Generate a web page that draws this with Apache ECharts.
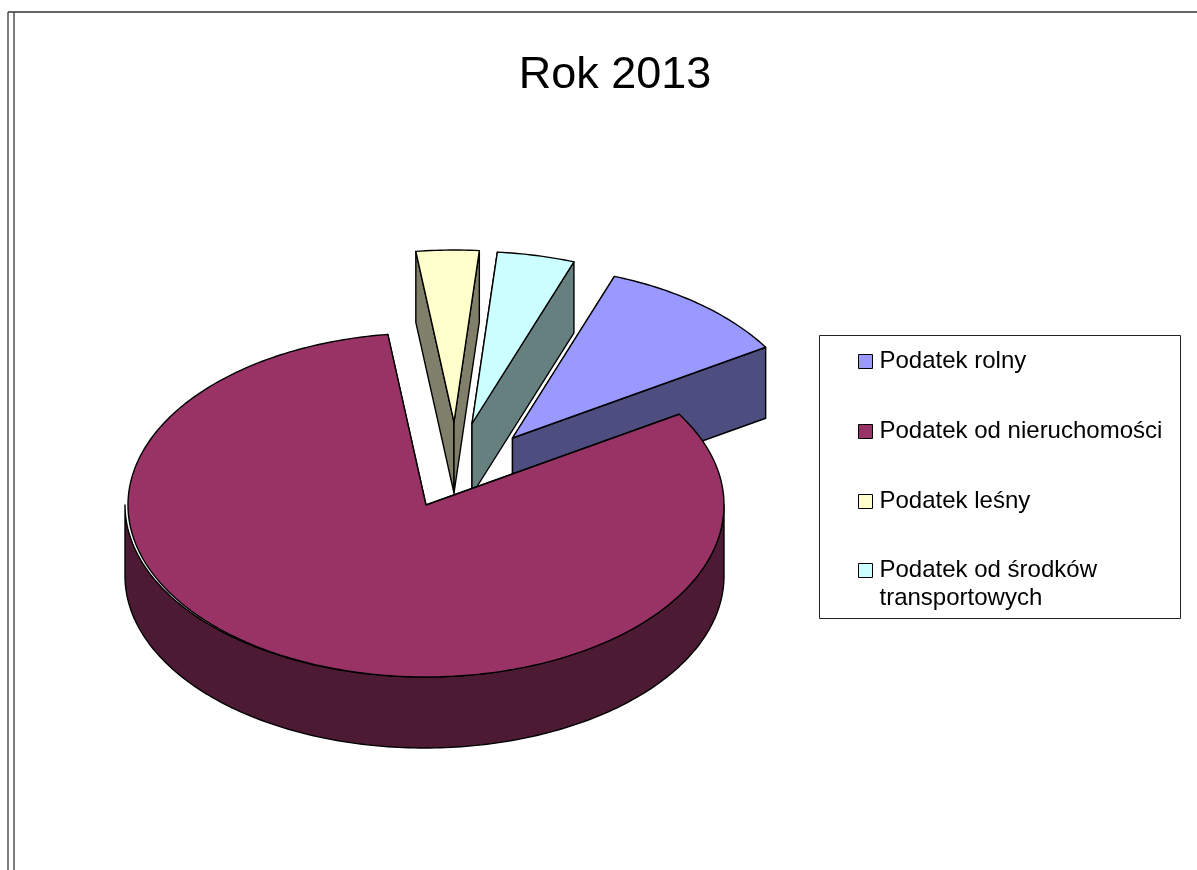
<!DOCTYPE html>
<html lang="pl">
<head>
<meta charset="utf-8">
<title>Rok 2013</title>
<style>
  html, body { margin: 0; padding: 0; background: #fff; }
  #chart { width: 1197px; height: 870px; }
</style>
<script src="https://cdn.jsdelivr.net/npm/echarts@6/dist/echarts.min.js"></script>
</head>
<body>
<div id="chart"></div>
<script>
// Tax shares for the year, in per cent
const categories = ['Podatek rolny', 'Podatek od nieruchomości', 'Podatek leśny', 'Podatek od środków\ntransportowych'];
const shares = [10.6, 81.8, 3.4, 4.2];
const topColors = ['#9999ff', '#993366', '#ffffcc', '#ccffff'];
const wallColors = ['#4d4d80', '#4d1a33', '#80806a', '#668080'];

// Paint order: the large slice goes last so it covers the walls of the pulled-out ones
const paintOrder = [0, 3, 2, 1];
const firstSliceAngle = 20;

// Pie projection: flattened ellipse, extruded downwards
const pie = { cx: 425.5, cy: 505, rx: 298, ry: 172, depth: 71, wallOverhang: 1.5 };
const sliceShift = [[87, -67], [0.5, 0], [28.5, -83], [46.5, -81.5]];

const total = shares.reduce((a, b) => a + b, 0);
const sliceStart = [];
shares.reduce((angle, v, i) => {
  sliceStart[i] = angle;
  return angle + (v / total) * 360;
}, firstSliceAngle);

function rim(angle, cx, cy, rx, ry) {
  const t = angle * Math.PI / 180;
  return [cx + rx * Math.sin(t), cy - ry * Math.cos(t)];
}

function arcPoints(from, to, cx, cy, rx, ry) {
  const pts = [];
  const steps = Math.max(2, Math.ceil(Math.abs(to - from)));
  for (let i = 0; i <= steps; i++) {
    pts.push(rim(from + (to - from) * i / steps, cx, cy, rx, ry));
  }
  return pts;
}

const edge = { stroke: '#000', lineWidth: 1.4, lineJoin: 'round' };

function renderSlice(idx) {
  return function (params, api) {
    const from = sliceStart[idx];
    const to = from + (api.value(0) / total) * 360;
    const [dx, dy] = sliceShift[idx];
    const cx = pie.cx + dx, cy = pie.cy + dy;
    const d = pie.depth;
    const apex = [cx, cy];
    const wallStyle = Object.assign({ fill: wallColors[idx] }, edge);
    const children = [];

    // Outer wall: only the part of the rim that faces the viewer
    const a0 = Math.max(from, 90), a1 = Math.min(to, 270);
    if (a1 > a0) {
      const wallCx = cx - pie.wallOverhang, wallRx = pie.rx + pie.wallOverhang;
      const upper = arcPoints(a0, a1, wallCx, cy, wallRx, pie.ry);
      const lower = upper.map(p => [p[0], p[1] + d]).reverse();
      children.push({ type: 'polygon', shape: { points: upper.concat(lower) }, style: wallStyle });
    }

    // Cut faces on both radial edges
    [from, to].forEach(angle => {
      const p = rim(angle, cx, cy, pie.rx, pie.ry);
      children.push({
        type: 'polygon',
        shape: { points: [apex, p, [p[0], p[1] + d], [apex[0], apex[1] + d]] },
        style: wallStyle
      });
    });

    // Top face
    children.push({
      type: 'polygon',
      shape: { points: [apex].concat(arcPoints(from, to, cx, cy, pie.rx, pie.ry)) },
      style: Object.assign({ fill: topColors[idx] }, edge)
    });
    return { type: 'group', children };
  };
}

const legendText = {
  fontFamily: 'Liberation Sans',
  fontSize: 24,
  lineHeight: 28,
  color: '#000',
  padding: [3, 0, 0, 2]
};
const legendCommon = {
  orient: 'vertical',
  left: 858,
  padding: 0,
  icon: 'rect',
  itemWidth: 14,
  itemHeight: 14,
  selectedMode: false,
  itemStyle: { borderColor: '#000', borderWidth: 1 },
  textStyle: legendText
};

const chart = echarts.init(document.getElementById('chart'), null, { renderer: 'canvas' });
chart.setOption({
  backgroundColor: '#fff',
  animation: false,
  title: {
    text: 'Rok 2013',
    left: 615,
    top: 76,
    textAlign: 'center',
    textVerticalAlign: 'middle',
    padding: 0,
    textStyle: { fontFamily: 'Liberation Sans', fontSize: 45, fontWeight: 'normal', color: '#000' }
  },
  legend: [
    Object.assign({}, legendCommon, { top: 346, itemGap: 39, data: categories.slice(0, 3) }),
    // The blank first line keeps the swatch level with the first line of the wrapped name
    Object.assign({}, legendCommon, {
      top: 527,
      data: categories.slice(3),
      formatter: name => '\n' + name
    })
  ],
  graphic: [
    { type: 'rect', silent: true, shape: { x: 819.5, y: 335.5, width: 361, height: 283 }, style: { fill: 'none', stroke: '#222', lineWidth: 1 } },
    { type: 'line', silent: true, shape: { x1: 8, y1: 12, x2: 8, y2: 870 }, style: { stroke: '#555', lineWidth: 1.5 } },
    { type: 'line', silent: true, shape: { x1: 14, y1: 12, x2: 14, y2: 870 }, style: { stroke: '#555', lineWidth: 1.5 } },
    { type: 'line', silent: true, shape: { x1: 8, y1: 12, x2: 1197, y2: 12 }, style: { stroke: '#333', lineWidth: 1.5 } }
  ],
  series: paintOrder.map(i => ({
    type: 'custom',
    name: categories[i],
    coordinateSystem: 'none',
    itemStyle: { color: topColors[i] },
    silent: true,
    renderItem: renderSlice(i),
    data: [[shares[i]]]
  }))
});
</script>
</body>
</html>
